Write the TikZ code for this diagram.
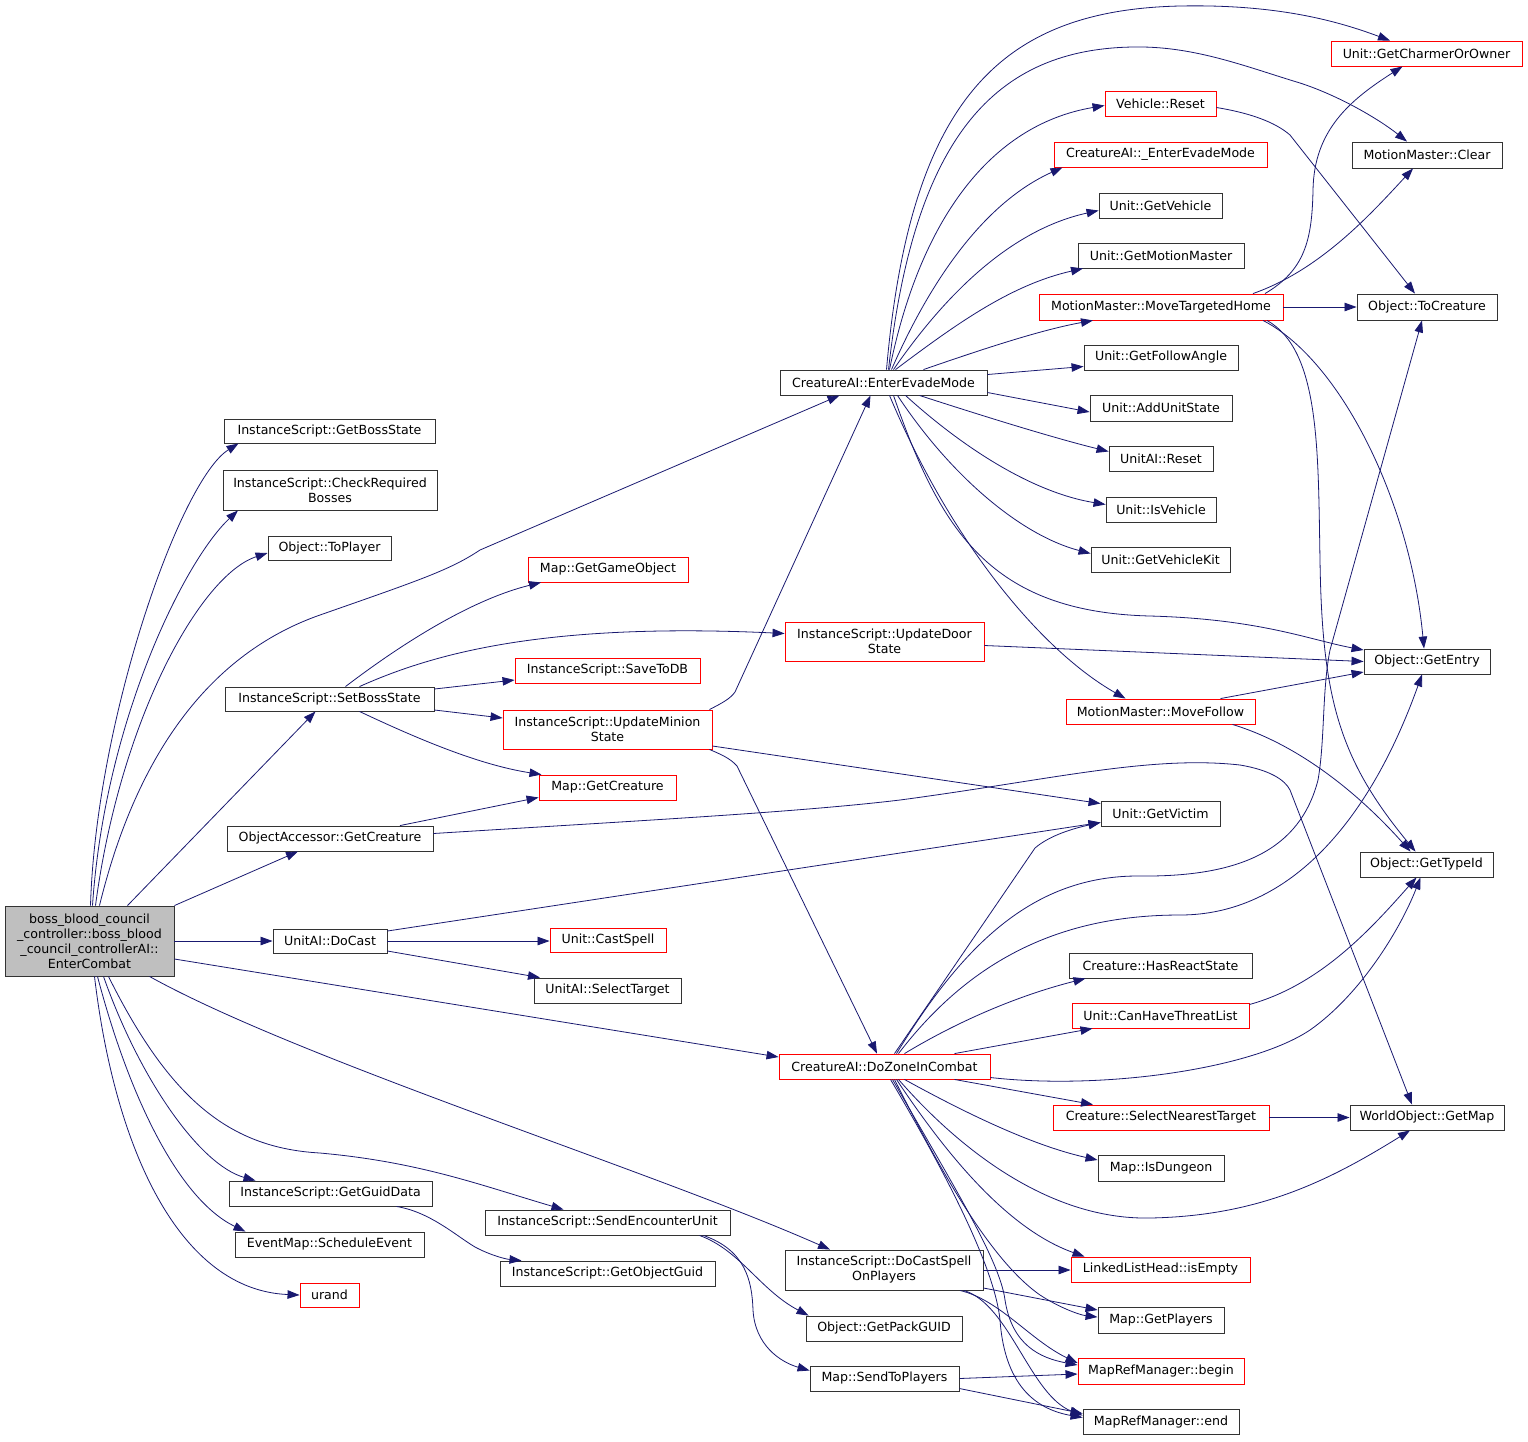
\documentclass[tikz,border=0pt]{standalone}
\usepackage{fontspec}
\usetikzlibrary{arrows.meta}
\newfontfamily\dejavu{DejaVu Sans}
\newcommand\dgfont{\dejavu\fontsize{12.6}{15}\selectfont}
\definecolor{edgec}{RGB}{25,25,112}
\definecolor{mgray}{RGB}{191,191,191}
\newcommand\bx[7]{\node[#6, minimum width={(#4-#2)*1pt}, minimum height={(#5-#3)*1pt}] (#1) at ({(#2+#4)/2},{(#3+#5)/2}) {#7};}
\begin{document}
\begin{tikzpicture}[x=1pt,y=-1pt,
  box/.style={draw=black!80, line width=0.9pt, inner sep=0pt, align=center, font=\dgfont, text=black},
  rbox/.style={box, draw=red},
  mbox/.style={box, fill=mgray},
  edge/.style={draw=edgec, line width=0.8pt, -{Triangle[length=12pt,width=8.5pt]}}]
\fill[white] (0,0) rectangle (1528,1441);
\useasboundingbox (0,0) rectangle (1528,1441);
% nodes
\bx{main}{5}{906}{174}{976}{mbox}{boss\_blood\_council\\\_controller::boss\_blood\\\_council\_controllerAI::\\EnterCombat}
\bx{gbs}{224}{419}{435}{443}{box}{InstanceScript::GetBossState}
\bx{crb}{223}{470}{437}{510}{box}{InstanceScript::CheckRequired\\Bosses}
\bx{tpl}{268}{536}{391}{560}{box}{Object::ToPlayer}
\bx{sbs}{225}{687}{434}{711}{box}{InstanceScript::SetBossState}
\bx{oagc}{227}{826}{433}{851}{box}{ObjectAccessor::GetCreature}
\bx{dc}{273}{929}{387}{953}{box}{UnitAI::DoCast}
\bx{ggd}{229}{1181}{432}{1206}{box}{InstanceScript::GetGuidData}
\bx{se}{235}{1232}{424}{1257}{box}{EventMap::ScheduleEvent}
\bx{ur}{300}{1283}{359}{1307}{rbox}{urand}
\bx{ggo}{528}{557}{688}{582}{rbox}{Map::GetGameObject}
\bx{stdb}{515}{658}{700}{683}{rbox}{InstanceScript::SaveToDB}
\bx{ums}{503}{710}{712}{749}{rbox}{InstanceScript::UpdateMinion\\State}
\bx{mgc}{539}{775}{676}{800}{rbox}{Map::GetCreature}
\bx{cs}{550}{928}{666}{952}{rbox}{Unit::CastSpell}
\bx{st}{534}{978}{681}{1003}{box}{UnitAI::SelectTarget}
\bx{seu}{485}{1210}{730}{1235}{box}{InstanceScript::SendEncounterUnit}
\bx{gog}{500}{1261}{715}{1286}{box}{InstanceScript::GetObjectGuid}
\bx{eem}{780}{370}{987}{395}{box}{CreatureAI::EnterEvadeMode}
\bx{uds}{785}{622}{984}{661}{rbox}{InstanceScript::UpdateDoor\\State}
\bx{dzc}{779}{1054}{990}{1079}{rbox}{CreatureAI::DoZoneInCombat}
\bx{dcs}{785}{1250}{983}{1290}{box}{InstanceScript::DoCastSpell\\OnPlayers}
\bx{gpg}{806}{1316}{962}{1341}{box}{Object::GetPackGUID}
\bx{stp}{810}{1366}{959}{1391}{box}{Map::SendToPlayers}
\bx{vr}{1105}{91}{1216}{116}{rbox}{Vehicle::Reset}
\bx{ueem}{1054}{142}{1267}{167}{rbox}{CreatureAI::\_EnterEvadeMode}
\bx{gv}{1099}{193}{1222}{218}{box}{Unit::GetVehicle}
\bx{gmm}{1078}{243}{1244}{268}{box}{Unit::GetMotionMaster}
\bx{mth}{1039}{294}{1283}{320}{rbox}{MotionMaster::MoveTargetedHome}
\bx{gfa}{1084}{345}{1238}{370}{box}{Unit::GetFollowAngle}
\bx{aus}{1090}{395}{1232}{421}{box}{Unit::AddUnitState}
\bx{uar}{1109}{446}{1213}{471}{box}{UnitAI::Reset}
\bx{iv}{1106}{497}{1216}{522}{box}{Unit::IsVehicle}
\bx{gvk}{1091}{547}{1230}{572}{box}{Unit::GetVehicleKit}
\bx{mf}{1066}{699}{1255}{724}{rbox}{MotionMaster::MoveFollow}
\bx{gvi}{1101}{801}{1220}{826}{box}{Unit::GetVictim}
\bx{hrs}{1069}{953}{1252}{978}{box}{Creature::HasReactState}
\bx{chtl}{1072}{1003}{1249}{1028}{rbox}{Unit::CanHaveThreatList}
\bx{snt}{1053}{1105}{1269}{1130}{rbox}{Creature::SelectNearestTarget}
\bx{idg}{1098}{1155}{1224}{1181}{box}{Map::IsDungeon}
\bx{lle}{1071}{1257}{1250}{1282}{rbox}{LinkedListHead::isEmpty}
\bx{gpl}{1098}{1307}{1224}{1333}{box}{Map::GetPlayers}
\bx{mrb}{1078}{1358}{1244}{1384}{rbox}{MapRefManager::begin}
\bx{mre}{1083}{1409}{1239}{1434}{box}{MapRefManager::end}
\bx{gco}{1331}{41}{1522}{66}{rbox}{Unit::GetCharmerOrOwner}
\bx{mmc}{1352}{142}{1502}{168}{box}{MotionMaster::Clear}
\bx{tcr}{1357}{294}{1497}{320}{box}{Object::ToCreature}
\bx{gen}{1364}{649}{1490}{674}{box}{Object::GetEntry}
\bx{gti}{1360}{852}{1493}{877}{box}{Object::GetTypeId}
\bx{wgm}{1350}{1105}{1504}{1130}{box}{WorldObject::GetMap}
% edges from main
\draw[edge] ([xshift=1pt]main.north) .. controls (96,720) and (180,480) .. ([xshift=-91pt]gbs.south);
\draw[edge] ([xshift=3pt]main.north) .. controls (105,720) and (185,560) .. ([xshift=-92pt]crb.south);
\draw[edge] ([xshift=6pt]main.north) .. controls (120,720) and (200,575) .. ([yshift=-5pt]tpl.west);
\draw[edge] ([xshift=10pt]main.north) .. controls (140,740) and (220,650) .. (320,615) .. controls (420,580) and (450,570) .. (480,550) -- ([xshift=-44pt]eem.south);
\draw[edge] ([xshift=38pt]main.north) -- ([xshift=-14pt]sbs.south);
\draw[edge] (main.north east) -- ([xshift=-32pt]oagc.south);
\draw[edge] (main.east) -- (dc.west);
\draw[edge] ([yshift=-18pt]main.east) -- ([yshift=9.5pt]dzc.west);
\draw[edge] ([xshift=60pt]main.south) .. controls (300,1060) and (650,1170) .. ([xshift=-54pt]dcs.north);
\draw[edge] ([xshift=19pt]main.south) .. controls (170,1100) and (230,1148) .. (320,1153) .. controls (420,1162) and (480,1185) .. ([xshift=-44pt]seu.north);
\draw[edge] ([xshift=14pt]main.south) .. controls (140,1080) and (200,1165) .. ([xshift=-75pt]ggd.north);
\draw[edge] ([xshift=8pt]main.south) .. controls (130,1100) and (180,1200) .. ([xshift=-84pt]se.north);
\draw[edge] ([xshift=5pt]main.south) .. controls (115,1150) and (180,1290) .. (ur.west);
% SetBossState
\draw[edge] ([xshift=16pt]sbs.north) .. controls (400,645) and (470,600) .. ([xshift=-67pt]ggo.south);
\draw[edge] ([xshift=30pt]sbs.north) .. controls (430,655) and (540,622) .. ([yshift=8pt]uds.west);
\draw[edge] ([yshift=10pt]sbs.east) -- ([yshift=-9.5pt]stdb.west);
\draw[edge] ([yshift=-11pt]sbs.east) -- ([yshift=11.5pt]ums.west);
\draw[edge] ([xshift=30pt]sbs.south) .. controls (420,740) and (480,765) .. ([xshift=-66pt]mgc.north);
% ObjectAccessor
\draw[edge] ([xshift=70pt]oagc.north) -- ([yshift=3pt]mgc.south west);
\draw[edge] ([yshift=5pt]oagc.east) .. controls (650,820) and (800,812) .. (900,800) .. controls (1050,780) and (1150,755) .. (1240,765) .. controls (1270,770) and (1285,780) .. (1290,790) -- ([xshift=-15pt]wgm.north);
% DoCast
\draw[edge] ([yshift=10pt]dc.east) -- ([yshift=-9pt]gvi.west);
\draw[edge] (dc.east) -- (dc.east -| cs.west);
\draw[edge] ([yshift=-10pt]dc.east) -- ([xshift=-67.5pt]st.north);
% GetGuidData, SendEncounterUnit
\draw[edge] ([xshift=66pt]ggd.south) .. controls (430,1212) and (455,1235) .. (475,1247) .. controls (490,1255) and (505,1259) .. ([xshift=-86pt]gog.north);
\draw[edge] ([xshift=92pt]seu.south) .. controls (740,1250) and (760,1290) .. ([xshift=3pt]gpg.north west);
\draw[edge] ([xshift=96pt]seu.south) .. controls (745,1250) and (752,1280) .. (753,1310) .. controls (755,1345) and (780,1362) .. ([yshift=8pt]stp.west);
% UpdateMinionState
\draw[edge] ([xshift=102pt]ums.north) .. controls (722,703) and (730,699) .. (735,692) -- ([xshift=-13pt]eem.south);
\draw[edge] ([xshift=102pt]ums.south) .. controls (720,754) and (730,758) .. (737,766) -- ([xshift=-7.5pt]dzc.north);
\draw[edge] ([yshift=-16.5pt]ums.east) -- ([yshift=10pt]gvi.west);
% UpdateDoorState
\draw[edge] ([yshift=-4pt]uds.east) -- (gen.west);
% EnterEvadeMode
\draw[edge] ([xshift=3pt]eem.north) .. controls (910,100) and (1000,10) .. (1180,6) .. controls (1280,4) and (1340,22) .. ([xshift=-36.5pt]gco.north);
\draw[edge] ([xshift=5pt]eem.north) .. controls (915,130) and (1000,45) .. (1143,47) .. controls (1200,48) and (1250,68) .. (1300,83) .. controls (1340,96) and (1380,120) .. ([xshift=-20pt]mmc.north);
\draw[edge] ([xshift=6pt]eem.north) .. controls (920,220) and (990,125) .. ([yshift=-2pt]vr.west);
\draw[edge] ([xshift=8pt]eem.north) .. controls (935,270) and (990,200) .. ([xshift=-98pt]ueem.south);
\draw[edge] ([xshift=10pt]eem.north) .. controls (945,295) and (1010,230) .. ([yshift=-5pt]gv.west);
\draw[edge] ([xshift=12pt]eem.north) .. controls (955,325) and (1010,285) .. ([xshift=-78pt]gmm.south);
\draw[edge] ([xshift=40pt]eem.north) .. controls (980,350) and (1040,330) .. ([xshift=-68pt]mth.south);
\draw[edge] ([yshift=8pt]eem.east) -- ([yshift=-9pt]gfa.west);
\draw[edge] ([yshift=-10pt]eem.east) -- ([yshift=-4pt]aus.west);
\draw[edge] ([xshift=36pt]eem.south) .. controls (980,415) and (1050,437) .. ([yshift=7pt]uar.west);
\draw[edge] ([xshift=22pt]eem.south) .. controls (960,445) and (1030,492) .. ([yshift=5pt]iv.west);
\draw[edge] ([xshift=14pt]eem.south) .. controls (950,475) and (1020,535) .. ([yshift=6pt]gvk.west);
\draw[edge] ([xshift=10pt]eem.south) .. controls (940,530) and (990,612) .. (1150,616) .. controls (1260,619) and (1310,640) .. ([yshift=11.5pt]gen.west);
\draw[edge] ([xshift=6pt]eem.south) .. controls (950,540) and (1040,650) .. ([xshift=-35pt]mf.north);
% Vehicle::Reset
\draw[edge] ([yshift=-4pt]vr.east) .. controls (1250,113) and (1275,122) .. (1290,135) -- ([xshift=-12pt]tcr.north);
% MoveTargetedHome
\draw[edge] ([xshift=104pt]mth.north) .. controls (1305,270) and (1312,240) .. (1313,190) .. controls (1314,130) and (1350,100) .. ([xshift=-24pt]gco.south);
\draw[edge] ([xshift=92pt]mth.north) .. controls (1320,270) and (1370,215) .. ([xshift=-14pt]mmc.south);
\draw[edge] (mth.east) -- (tcr.west);
\draw[edge] ([xshift=102pt]mth.south) .. controls (1340,360) and (1410,500) .. ([xshift=-3pt]gen.north);
\draw[edge] ([xshift=106pt]mth.south) .. controls (1320,350) and (1318,450) .. (1320,560) .. controls (1322,700) and (1340,760) .. ([xshift=-11pt]gti.north);
% MoveFollow
\draw[edge] ([xshift=60pt]mf.north) -- ([yshift=-10.5pt]gen.west);
\draw[edge] ([xshift=72pt]mf.south) .. controls (1300,745) and (1360,795) .. ([xshift=-16pt]gti.north);
% DoZoneInCombat
\draw[edge] ([xshift=10pt]dzc.north) -- (1035,848) .. controls (1050,835) and (1075,828) .. ([yshift=-9pt]gvi.west);
\draw[edge] ([xshift=12pt]dzc.north) .. controls (960,950) and (1030,875) .. (1140,876) .. controls (1240,877) and (1300,850) .. (1318,780) .. controls (1325,740) and (1322,690) .. (1330,650) -- ([xshift=-5pt]tcr.south);
\draw[edge] ([xshift=14pt]dzc.north) .. controls (970,960) and (1060,915) .. (1180,915) .. controls (1290,915) and (1370,820) .. ([xshift=-5pt]gen.south);
\draw[edge] ([xshift=20pt]dzc.north) .. controls (960,1020) and (1020,995) .. ([xshift=-75pt]hrs.south);
\draw[edge] ([xshift=70pt]dzc.north) -- ([xshift=-68pt]chtl.south);
\draw[edge] ([yshift=-11pt]dzc.east) .. controls (1100,1090) and (1250,1070) .. (1310,1030) .. controls (1360,995) and (1400,930) .. ([xshift=-6pt]gti.south);
\draw[edge] ([xshift=70pt]dzc.south) -- ([xshift=-68pt]snt.north);
\draw[edge] ([xshift=20pt]dzc.south) .. controls (960,1110) and (1030,1145) .. ([yshift=8pt]idg.west);
\draw[edge] ([xshift=14pt]dzc.south) .. controls (960,1150) and (1050,1220) .. (1150,1218) .. controls (1260,1216) and (1330,1180) .. ([xshift=-17pt]wgm.south);
\draw[edge] ([xshift=12pt]dzc.south) .. controls (950,1160) and (1010,1230) .. ([xshift=-76pt]lle.north);
\draw[edge] ([xshift=10pt]dzc.south) .. controls (940,1170) and (990,1260) .. (1040,1295) .. controls (1060,1308) and (1080,1315) .. ([yshift=3pt]gpl.west);
\draw[edge] ([xshift=8pt]dzc.south) .. controls (950,1180) and (1000,1260) .. (1005,1300) .. controls (1012,1345) and (1040,1358) .. ([yshift=6pt]mrb.west);
\draw[edge] ([xshift=6pt]dzc.south) .. controls (950,1180) and (995,1270) .. (1000,1320) .. controls (1005,1390) and (1040,1410) .. ([yshift=4pt]mre.west);
% CanHaveThreatList, SelectNearestTarget
\draw[edge] ([yshift=11pt]chtl.east) .. controls (1320,985) and (1370,930) .. ([xshift=-10pt]gti.south);
\draw[edge] (snt.east) -- (wgm.west);
% DoCastSpellOnPlayers
\draw[edge] (dcs.east) -- (dcs.east -| lle.west);
\draw[edge] ([yshift=-18pt]dcs.east) -- ([yshift=10pt]gpl.west);
\draw[edge] ([xshift=76pt]dcs.south) .. controls (1000,1300) and (1030,1340) .. ([yshift=8pt]mrb.west);
\draw[edge] ([xshift=80pt]dcs.south) .. controls (1010,1305) and (1030,1395) .. ([yshift=6pt]mre.west);
% SendToPlayers
\draw[edge] (stp.east) -- ([yshift=-3pt]mrb.west);
\draw[edge] ([yshift=-10pt]stp.east) -- ([yshift=8pt]mre.west);
\end{tikzpicture}
\end{document}
